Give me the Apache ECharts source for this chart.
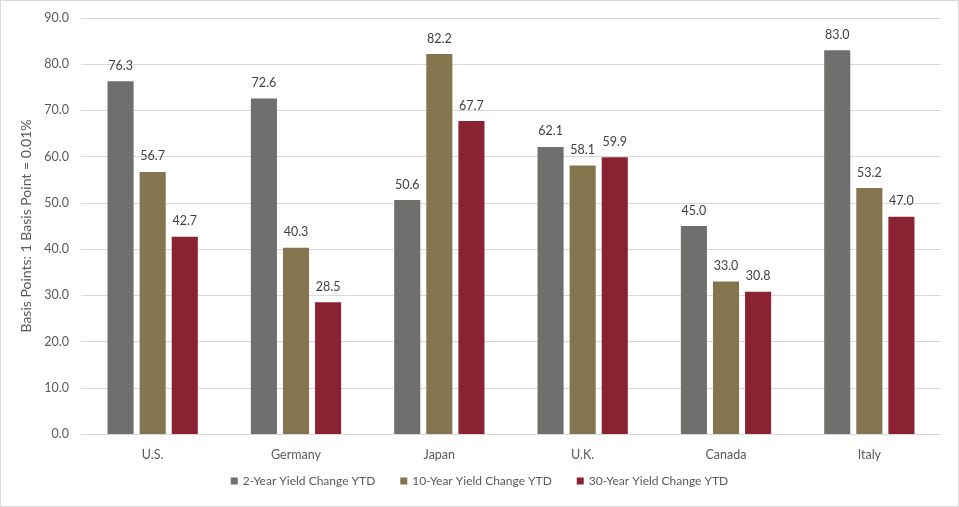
<!DOCTYPE html>
<html>
<head>
<meta charset="utf-8">
<script src="https://cdn.jsdelivr.net/npm/echarts@6/dist/echarts.min.js"></script>
<style>
  html, body { margin: 0; padding: 0; background: #fff; }
  #chart { width: 957px; height: 505px; border: 1px solid #d9d9d9; }
</style>
</head>
<body>
<div id="chart"></div>
<script>
var countries = ['U.S.', 'Germany', 'Japan', 'U.K.', 'Canada', 'Italy'];
var twoYear = [76.3, 72.6, 50.6, 62.1, 45.0, 83.0];
var tenYear = [56.7, 40.3, 82.2, 58.1, 33.0, 53.2];
var thirtyYear = [42.7, 28.5, 67.7, 59.9, 30.8, 47.0];
var seriesNames = ['2-Year Yield Change YTD', '10-Year Yield Change YTD', '30-Year Yield Change YTD'];

var myChart = echarts.init(document.getElementById('chart'));
var font = 'Lato, Open Sans, sans-serif';

function barSeries(name, data, color) {
    return {
        name: name,
        type: 'bar',
        data: data,
        barGap: '23%',
        barCategoryGap: '37%',
        itemStyle: { color: color },
        label: {
            show: true,
            position: 'top',
            distance: 9,
            color: '#404040',
            fontSize: 12.5,
            fontFamily: font,
            formatter: function (p) { return p.value.toFixed(1); }
        }
    };
}

var option = {
    animation: false,
    textStyle: { fontFamily: font },
    grid: { left: 80, right: 17, top: 17, bottom: 72 },
    legend: {
        data: seriesNames,
        bottom: 14,
        left: 'center',
        icon: 'rect',
        itemWidth: 7,
        itemHeight: 7,
        itemGap: 25,
        textStyle: { color: '#595959', fontSize: 12, fontFamily: font }
    },
    xAxis: {
        type: 'category',
        data: countries,
        axisTick: { show: false },
        axisLine: { lineStyle: { color: '#d9d9d9' } },
        axisLabel: { color: '#595959', fontSize: 12.5, margin: 14, fontFamily: font }
    },
    yAxis: {
        type: 'value',
        min: 0,
        max: 90,
        interval: 10,
        name: 'Basis Points: 1 Basis Point = 0.01%',
        nameLocation: 'middle',
        nameGap: 48,
        nameTextStyle: { color: '#595959', fontSize: 14, fontFamily: font },
        axisLine: { show: false },
        axisTick: { show: false },
        axisLabel: {
            color: '#595959',
            fontSize: 12.5,
            margin: 12,
            fontFamily: font,
            formatter: function (v) { return v.toFixed(1); }
        },
        splitLine: { lineStyle: { color: '#d9d9d9' } }
    },
    series: [
        barSeries(seriesNames[0], twoYear, '#6f706e'),
        barSeries(seriesNames[1], tenYear, '#85754e'),
        barSeries(seriesNames[2], thirtyYear, '#8b2232')
    ]
};

myChart.setOption(option);
</script>
</body>
</html>
